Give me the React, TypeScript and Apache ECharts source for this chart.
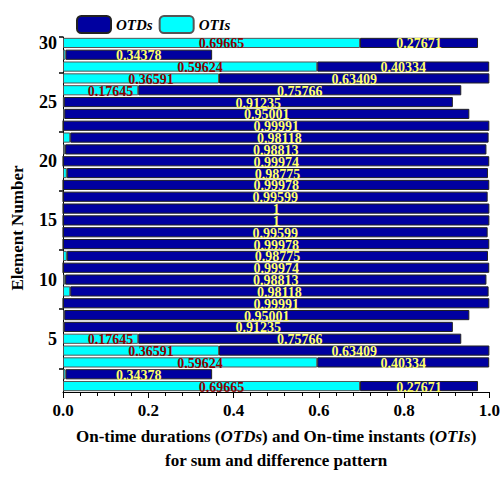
import React, { useEffect, useRef } from "react";
import * as echarts from "echarts";

const elements = Array.from({ length: 30 }, (_, i) => String(i + 1));
const otiValues = [0.69665, 0.006, 0.59624, 0.36591, 0.17645, 0.002, 0.003, 0, 0.017, 0.005, 0, 0.009, 0, 0, 0, 0, 0, 0, 0.009, 0, 0.005, 0.017, 0, 0.003, 0.002, 0.17645, 0.36591, 0.59624, 0.006, 0.69665];
const otdValues = [0.27671, 0.34378, 0.40334, 0.63409, 0.75766, 0.91235, 0.95001, 0.99991, 0.98118, 0.98813, 0.99974, 0.98775, 0.99978, 0.99599, 1, 1, 0.99599, 0.99978, 0.98775, 0.99974, 0.98813, 0.98118, 0.99991, 0.95001, 0.91235, 0.75766, 0.63409, 0.40334, 0.34378, 0.27671];
const xTicks = [0, 0.2, 0.4, 0.6, 0.8, 1.0];

const FONT = "'Liberation Serif', 'Times New Roman', serif";

export default function App() {
  const ref = useRef<HTMLDivElement>(null);
  useEffect(() => {
    if (!ref.current) return;
    const chart = echarts.init(ref.current, null, { renderer: "svg" });
    chart.setOption({
      animation: false,
      textStyle: { fontFamily: FONT },
      legend: {
        data: ["OTDs", "OTIs"],
        left: 71,
        top: 10,
        itemWidth: 34,
        itemHeight: 17,
        itemGap: 6,
        textStyle: { fontFamily: FONT, fontWeight: "bold", fontStyle: "italic", fontSize: 15, color: "#000" },
      },
      grid: { left: 63, right: 10, top: 37, bottom: 84 },
      graphic: [
        {
          type: "text",
          x: 17,
          y: 228,
          rotation: Math.PI / 2,
          style: {
            text: "Element Number",
            fontFamily: FONT,
            fontWeight: "bold",
            fontSize: 17,
            fill: "#000",
            align: "center",
            verticalAlign: "middle",
          },
        },
      ],
      xAxis: {
        type: "value",
        min: 0,
        max: 1,
        interval: 0.2,
        axisLine: { show: true, lineStyle: { color: "#000", width: 1 } },
        axisTick: { show: true, length: 6, lineStyle: { color: "#000" } },
        minorTick: { show: true, splitNumber: 5, length: 4, lineStyle: { color: "#000" } },
        splitLine: { show: false },
        axisLabel: {
          margin: 10,
          fontFamily: FONT,
          fontWeight: "bold",
          fontSize: 17,
          color: "#000",
          formatter: (v: number) => (xTicks.includes(Math.round(v * 10) / 10) ? v.toFixed(1) : ""),
        },
        name: "{b|On-time durations (}{bi|OTDs}{b|) and On-time instants (}{bi|OTIs}{b|)}\n{b|for sum and difference pattern}",
        nameLocation: "middle",
        nameGap: 32,
        nameTextStyle: {
          fontFamily: FONT,
          fontSize: 17,
          fontWeight: "bold",
          color: "#000",
          lineHeight: 24,
          rich: {
            b: { fontFamily: FONT, fontSize: 17, fontWeight: "bold", color: "#000", lineHeight: 24 },
            bi: { fontFamily: FONT, fontSize: 17, fontWeight: "bold", fontStyle: "italic", color: "#000", lineHeight: 24 },
          },
        },
      },
      yAxis: {
        type: "category",
        data: elements,
        boundaryGap: true,
        axisLine: { show: true, lineStyle: { color: "#000", width: 1 } },
        axisTick: {
          show: true,
          length: 4,
          interval: (index: number) => index % 5 === 2,
          lineStyle: { color: "#000", width: 1.5 },
        },
        axisLabel: {
          interval: (index: number) => (index + 1) % 5 === 0,
          margin: 6,
          fontFamily: FONT,
          fontWeight: "bold",
          fontSize: 18,
          color: "#000",
        },
      },
      series: [
        {
          name: "OTIs",
          type: "bar",
          stack: "total",
          barCategoryGap: "14%",
          itemStyle: { color: "#00FFFF", borderColor: "#555", borderWidth: 1 },
          data: otiValues.map((v) => ({
            value: v,
            label: { show: v > 0.1 },
          })),
          label: {
            position: "inside",
            offset: [10, 1],
            color: "#8B0000",
            fontFamily: FONT,
            fontWeight: "bold",
            fontSize: 14,
          },
        },
        {
          name: "OTDs",
          type: "bar",
          stack: "total",
          barCategoryGap: "14%",
          itemStyle: { color: "#0000A0", borderColor: "#222", borderWidth: 1 },
          data: otdValues,
          label: {
            show: true,
            position: "inside",
            offset: [0, 1],
            color: "#FFFF66",
            fontFamily: FONT,
            fontWeight: "bold",
            fontSize: 14,
          },
        },
      ],
    });
    return () => chart.dispose();
  }, []);
  return <div ref={ref} style={{ position: "absolute", left: 0, top: 0, width: 503, height: 477 }} />;
}
